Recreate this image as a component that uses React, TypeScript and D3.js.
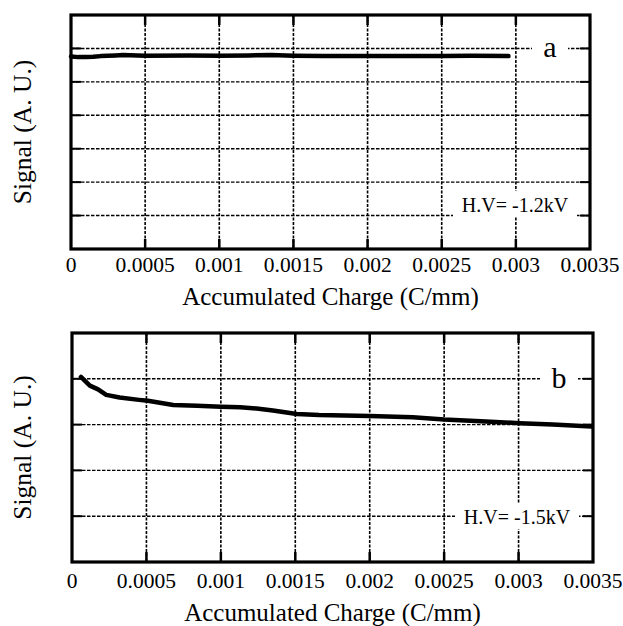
import React, { useEffect, useRef } from 'react';
import * as d3 from 'd3';

// x ticks shared by both panels
const xTicks = [0, 0.0005, 0.001, 0.0015, 0.002, 0.0025, 0.003, 0.0035];
const xTickLabels = ['0', '0.0005', '0.001', '0.0015', '0.002', '0.0025', '0.003', '0.0035'];

// panel a (H.V = -1.2kV), y in grid units 0..7
const chargeA = [0, 0.00005, 0.0001, 0.00015, 0.0002, 0.0003, 0.00035, 0.0005, 0.0008, 0.001, 0.0012, 0.00135, 0.0015, 0.0017, 0.002, 0.0023, 0.0025, 0.0027, 0.00295];
const signalA = [5.76, 5.74, 5.74, 5.75, 5.77, 5.79, 5.8, 5.78, 5.79, 5.78, 5.79, 5.8, 5.78, 5.77, 5.77, 5.77, 5.77, 5.78, 5.77];

// panel b (H.V = -1.5kV), y in grid units 0..5
const chargeB = [0.00006, 0.00012, 0.000175, 0.00023, 0.00032, 0.00045, 0.00051, 0.00068, 0.00084, 0.001, 0.00113, 0.00124, 0.00135, 0.00151, 0.00166, 0.002, 0.00229, 0.0025, 0.00278, 0.00301, 0.00323, 0.00349];
const signalB = [4.04, 3.85, 3.77, 3.65, 3.59, 3.54, 3.52, 3.43, 3.41, 3.39, 3.38, 3.35, 3.31, 3.23, 3.21, 3.19, 3.16, 3.11, 3.07, 3.03, 3.0, 2.96];

const FONT = 'Liberation Serif, Times New Roman, DejaVu Serif, serif';

function drawPanel(svg, opts) {
    const { left, right, top, bottom, yMax, xs, ys, letter, letterY, hv, hvY, hvBox, titleY, tickY } = opts;

    const x = d3.scaleLinear().domain([0, 0.0035]).range([left, right]);
    const y = d3.scaleLinear().domain([0, yMax]).range([bottom, top]);
    const g = svg.append('g').attr('font-family', FONT);

    const yGrid = d3.range(1, yMax);
    const xGrid = xTicks.slice(1, -1);

    // dotted grid
    g.selectAll('.hg').data(yGrid).join('line')
        .attr('x1', left).attr('x2', right)
        .attr('y1', d => y(d)).attr('y2', d => y(d))
        .attr('stroke', '#000').attr('stroke-width', 1.4).attr('stroke-dasharray', '3.5,1.5');
    g.selectAll('.vg').data(xGrid).join('line')
        .attr('x1', d => x(d)).attr('x2', d => x(d))
        .attr('y1', top).attr('y2', bottom)
        .attr('stroke', '#000').attr('stroke-width', 1.6).attr('stroke-dasharray', '3,1.5');

    // inside tick marks
    const tl = 10;
    yGrid.forEach(v => {
        g.append('line').attr('x1', left).attr('x2', left + tl).attr('y1', y(v)).attr('y2', y(v)).attr('stroke', '#000').attr('stroke-width', 2);
        g.append('line').attr('x1', right - tl).attr('x2', right).attr('y1', y(v)).attr('y2', y(v)).attr('stroke', '#000').attr('stroke-width', 2);
    });
    xGrid.forEach(v => {
        g.append('line').attr('x1', x(v)).attr('x2', x(v)).attr('y1', bottom - tl).attr('y2', bottom).attr('stroke', '#000').attr('stroke-width', 2.5);
        g.append('line').attr('x1', x(v)).attr('x2', x(v)).attr('y1', top).attr('y2', top + tl).attr('stroke', '#000').attr('stroke-width', 2.5);
    });

    // label boxes break the grid
    g.append('rect')
        .attr('x', hvBox[0]).attr('y', hvY - 14).attr('width', hvBox[1] - hvBox[0]).attr('height', 26)
        .attr('fill', '#fff');
    g.append('text')
        .attr('x', (hvBox[0] + hvBox[1]) / 2).attr('y', hvY + 7)
        .attr('text-anchor', 'middle')
        .attr('font-size', 20)
        .text(hv);
    g.append('rect')
        .attr('x', letter.x0).attr('y', y(letterY) - 16).attr('width', letter.x1 - letter.x0).attr('height', 32)
        .attr('fill', '#fff');
    g.append('text')
        .attr('x', (letter.x0 + letter.x1) / 2).attr('y', y(letterY) + 9)
        .attr('text-anchor', 'middle')
        .attr('font-size', 30)
        .text(letter.text);

    // data
    const line = d3.line().x(d => x(d[0])).y(d => y(d[1]));
    g.append('path')
        .datum(xs.map((v, i) => [v, ys[i]]))
        .attr('d', line)
        .attr('fill', 'none').attr('stroke', '#000').attr('stroke-width', 4.5)
        .attr('stroke-linecap', 'round').attr('stroke-linejoin', 'round');

    // frame
    g.append('rect')
        .attr('x', left).attr('y', top).attr('width', right - left).attr('height', bottom - top)
        .attr('fill', 'none').attr('stroke', '#000').attr('stroke-width', 3.2);

    // tick labels
    g.selectAll('.xl').data(xTicks).join('text')
        .attr('x', d => x(d)).attr('y', tickY)
        .attr('text-anchor', 'middle')
        .attr('font-size', 21.5)
        .text((d, i) => xTickLabels[i]);

    g.append('text')
        .attr('x', (left + right) / 2).attr('y', titleY)
        .attr('text-anchor', 'middle')
        .attr('font-size', 25)
        .text('Accumulated Charge (C/mm)');

    g.append('text')
        .attr('transform', 'translate(31,' + (top + bottom) / 2 + ') rotate(-90)')
        .attr('text-anchor', 'middle')
        .attr('font-size', 25.5)
        .text('Signal (A. U.)');
}

function App() {
    const ref = useRef(null);

    useEffect(function() {
        const svg = d3.select(ref.current);
        svg.selectAll('*').remove();
        drawPanel(svg, {
            left: 71, right: 590, top: 15, bottom: 249, yMax: 7,
            xs: chargeA, ys: signalA,
            letter: { text: 'a', x0: 532, x1: 568 }, letterY: 6,
            hv: 'H.V= -1.2kV', hvY: 205, hvBox: [453, 577],
            tickY: 272, titleY: 305
        });
        drawPanel(svg, {
            left: 72, right: 593, top: 333, bottom: 562, yMax: 5,
            xs: chargeB, ys: signalB,
            letter: { text: 'b', x0: 540, x1: 578 }, letterY: 4,
            hv: 'H.V= -1.5kV', hvY: 517, hvBox: [455, 579],
            tickY: 588, titleY: 621
        });
    });

    return (
        <svg ref={ref} width={623} height={626}
            style={{ position: 'absolute', left: 0, top: 0, background: '#fff' }} />
    );
}

export default App;
